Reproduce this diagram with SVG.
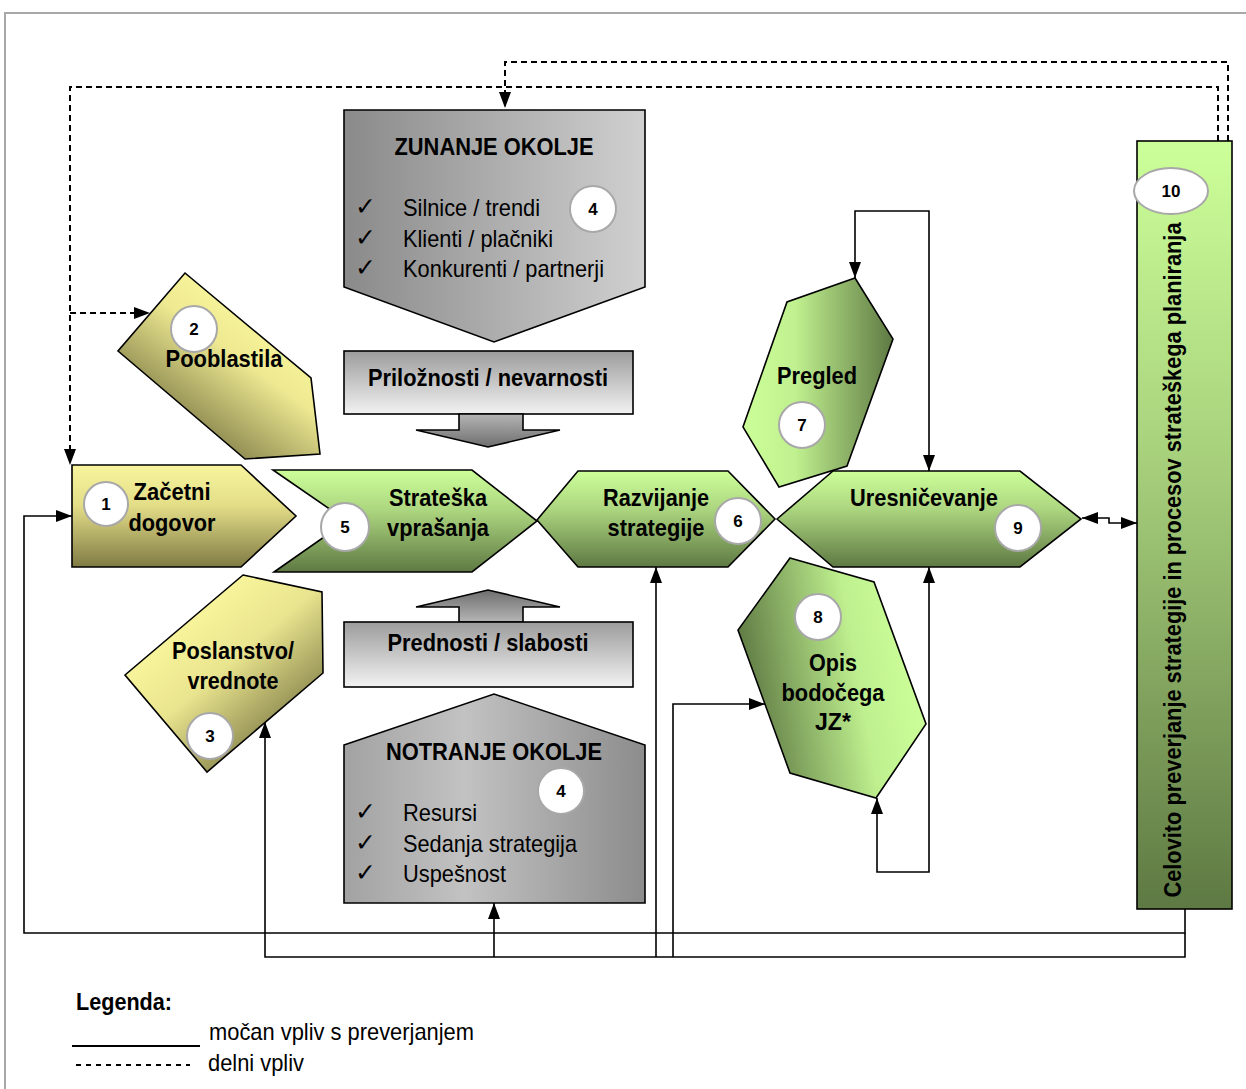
<svg xmlns="http://www.w3.org/2000/svg" width="1246" height="1089" viewBox="0 0 1246 1089">
<defs>
<style>
.t{font-family:"Liberation Sans",Arial,sans-serif;font-weight:bold;font-size:24px;fill:#000;text-anchor:middle}
.n{font-family:"Liberation Sans",Arial,sans-serif;font-size:24px;fill:#000}
.num{font-family:"Liberation Sans",Arial,sans-serif;font-weight:bold;font-size:17px;fill:#000;text-anchor:middle}
.ck{font-family:"DejaVu Sans",sans-serif;font-size:25px;fill:#000}
.sh{stroke:#000;stroke-width:1.6;stroke-linejoin:miter}
.c{fill:#fff;stroke:#a8a8a8;stroke-width:2}
.ln{fill:none;stroke:#000;stroke-width:1.6}
.dl{fill:none;stroke:#000;stroke-width:2;stroke-dasharray:6,4}
</style>
<marker id="ar" viewBox="0 0 16 12" refX="16" refY="6" markerWidth="16" markerHeight="12" markerUnits="userSpaceOnUse" orient="auto-start-reverse">
<path d="M0,0 L16,6 L0,12 z" fill="#000"/>
</marker>
<linearGradient id="gY1" x1="0" y1="0" x2="0" y2="1"><stop offset="0" stop-color="#f8f49d"/><stop offset="0.4" stop-color="#e3dd88"/><stop offset="1" stop-color="#807b44"/></linearGradient>
<linearGradient id="gY2" x1="0.85" y1="0.25" x2="0.3" y2="0.95"><stop offset="0" stop-color="#fbf89e"/><stop offset="0.35" stop-color="#efea92"/><stop offset="1" stop-color="#6f6c3c"/></linearGradient>
<linearGradient id="gY3" x1="0.25" y1="0.2" x2="0.85" y2="0.9"><stop offset="0" stop-color="#fbf89e"/><stop offset="0.4" stop-color="#e9e48e"/><stop offset="1" stop-color="#6f6c3c"/></linearGradient>
<linearGradient id="gG" x1="0" y1="0" x2="0" y2="1"><stop offset="0" stop-color="#ccff99"/><stop offset="0.4" stop-color="#acd57f"/><stop offset="1" stop-color="#5e7943"/></linearGradient>
<linearGradient id="gG7" x1="0" y1="0" x2="1" y2="0"><stop offset="0" stop-color="#ccff99"/><stop offset="0.35" stop-color="#c0f08f"/><stop offset="1" stop-color="#5e7943"/></linearGradient>
<linearGradient id="gG8" x1="0.05" y1="0.6" x2="0.95" y2="0.4"><stop offset="0" stop-color="#5e7943"/><stop offset="0.65" stop-color="#bff08f"/><stop offset="1" stop-color="#ccff99"/></linearGradient>
<linearGradient id="gG10" x1="0" y1="0" x2="0" y2="1"><stop offset="0" stop-color="#ccff99"/><stop offset="0.4" stop-color="#a9d27d"/><stop offset="1" stop-color="#5e7943"/></linearGradient>
<linearGradient id="gZ" x1="0" y1="0" x2="1" y2="0"><stop offset="0" stop-color="#8a8a8a"/><stop offset="1" stop-color="#d0d0d0"/></linearGradient>
<linearGradient id="gN" x1="0" y1="0" x2="1" y2="0"><stop offset="0" stop-color="#a2a2a2"/><stop offset="0.4" stop-color="#c2c2c2"/><stop offset="1" stop-color="#8c8c8c"/></linearGradient>
<linearGradient id="gB" x1="0" y1="0" x2="0" y2="1"><stop offset="0" stop-color="#9c9c9c"/><stop offset="1" stop-color="#f2f2f2"/></linearGradient>
<linearGradient id="gAd" x1="0" y1="0" x2="0" y2="1"><stop offset="0" stop-color="#b5b5b5"/><stop offset="1" stop-color="#6e6e6e"/></linearGradient>
<linearGradient id="gAu" x1="0" y1="0" x2="0" y2="1"><stop offset="0" stop-color="#6e6e6e"/><stop offset="1" stop-color="#b5b5b5"/></linearGradient>
<clipPath id="clipN"><rect x="344" y="694" width="301" height="193"/></clipPath>
</defs>

<rect x="5" y="13" width="1260" height="1100" fill="#fff" stroke="#a8a8a8" stroke-width="2"/>

<g id="connectors">
<path class="dl" d="M1228,141 V62 H505 V108" marker-end="url(#ar)"/>
<path class="dl" d="M1218,141 V87 H70 V465" marker-end="url(#ar)"/>
<path class="dl" d="M70,313 H150" marker-end="url(#ar)"/>
<path class="ln" d="M855,278 V211 H929 V471" marker-start="url(#ar)" marker-end="url(#ar)"/>
<path class="ln" d="M877,798 V872 H929 V567" marker-start="url(#ar)" marker-end="url(#ar)"/>
<path class="ln" d="M1185,909 V933 H24 V516 H72" marker-end="url(#ar)"/>
<path class="ln" d="M1185,933 V957 H265 V722" marker-end="url(#ar)"/>
<path class="ln" d="M494,957 V903" marker-end="url(#ar)"/>
<path class="ln" d="M656,957 V567" marker-end="url(#ar)"/>
<path class="ln" d="M673,957 V704 H765" marker-end="url(#ar)"/>
<path class="ln" d="M1082,518 H1109 V523 H1137" marker-start="url(#ar)" marker-end="url(#ar)"/>
</g>

<g id="node-zunanje">
<path class="sh" d="M344,110 H645 V287 L494,342 L344,287 Z" fill="url(#gZ)"/>
<text class="t" x="494" y="155" textLength="199" lengthAdjust="spacingAndGlyphs">ZUNANJE OKOLJE</text>
<text class="ck" x="355" y="215">✓</text>
<text class="ck" x="355" y="246">✓</text>
<text class="ck" x="355" y="276">✓</text>
<text class="n" x="403" y="216" textLength="137" lengthAdjust="spacingAndGlyphs">Silnice / trendi</text>
<text class="n" x="403" y="247" textLength="150" lengthAdjust="spacingAndGlyphs">Klienti / plačniki</text>
<text class="n" x="403" y="277" textLength="201" lengthAdjust="spacingAndGlyphs">Konkurenti / partnerji</text>
<circle class="c" cx="593" cy="209" r="23"/>
<text class="num" x="593" y="215">4</text>
</g>

<g id="node-priloznosti">
<rect class="sh" x="344" y="351" width="289" height="63" fill="url(#gB)"/>
<text class="t" x="488" y="386" textLength="240" lengthAdjust="spacingAndGlyphs">Priložnosti / nevarnosti</text>
<path class="sh" d="M459,414 H523 V430 H560 L488,447 L416,430 H459 Z" fill="url(#gAd)" stroke-width="1"/>
</g>

<g id="node-prednosti">
<path class="sh" d="M459,622 V607 H416 L488,590 L560,607 H523 V622 Z" fill="url(#gAu)" stroke-width="1"/>
<rect class="sh" x="344" y="622" width="289" height="65" fill="url(#gB)"/>
<text class="t" x="488" y="651" textLength="201" lengthAdjust="spacingAndGlyphs">Prednosti / slabosti</text>
</g>

<g id="node-notranje">
<path class="sh" d="M344,745 L494,694 L645,745 V903 H344 Z" fill="url(#gN)"/>
<text class="t" x="494" y="760" textLength="216" lengthAdjust="spacingAndGlyphs">NOTRANJE OKOLJE</text>
<circle class="c" cx="561" cy="791" r="23"/>
<text class="num" x="561" y="797">4</text>
<g clip-path="url(#clipN)">
<text class="ck" x="355" y="820">✓</text>
<text class="ck" x="355" y="851">✓</text>
<text class="ck" x="355" y="881">✓</text>
<text class="n" x="403" y="821" textLength="74" lengthAdjust="spacingAndGlyphs">Resursi</text>
<text class="n" x="403" y="852" textLength="174" lengthAdjust="spacingAndGlyphs">Sedanja strategija</text>
<text class="n" x="403" y="882" textLength="103" lengthAdjust="spacingAndGlyphs">Uspešnost</text>
</g>
</g>

<g id="node-1">
<path class="sh" d="M72,465 H241 L296,516 L241,567 H72 Z" fill="url(#gY1)"/>
<circle class="c" cx="106" cy="504" r="22"/>
<text class="num" x="106" y="510">1</text>
<text class="t" x="172" y="500" textLength="77" lengthAdjust="spacingAndGlyphs">Začetni</text>
<text class="t" x="172" y="531" textLength="87" lengthAdjust="spacingAndGlyphs">dogovor</text>
</g>

<g id="node-2">
<path class="sh" d="M185,273 L311,378 L320,454 L245,459 L118,351 Z" fill="url(#gY2)"/>
<circle class="c" cx="194" cy="329" r="23"/>
<text class="num" x="194" y="335">2</text>
<text class="t" x="224" y="367" textLength="117" lengthAdjust="spacingAndGlyphs">Pooblastila</text>
</g>

<g id="node-3">
<path class="sh" d="M243,575 L322,592 L323,673 L207,772 L125,675 Z" fill="url(#gY3)"/>
<text class="t" x="233" y="659" textLength="122" lengthAdjust="spacingAndGlyphs">Poslanstvo/</text>
<text class="t" x="233" y="689" textLength="91" lengthAdjust="spacingAndGlyphs">vrednote</text>
<circle class="c" cx="210" cy="736" r="23"/>
<text class="num" x="210" y="742">3</text>
</g>

<g id="node-5">
<path class="sh" d="M273,470 H472 L537,521 L472,572 H274 L347,521 Z" fill="url(#gG)"/>
<circle class="c" cx="345" cy="527" r="24"/>
<text class="num" x="345" y="533">5</text>
<text class="t" x="438" y="506" textLength="98" lengthAdjust="spacingAndGlyphs">Strateška</text>
<text class="t" x="438" y="536" textLength="102" lengthAdjust="spacingAndGlyphs">vprašanja</text>
</g>

<g id="node-6">
<path class="sh" d="M537,520 L578,471 H728 L775,519 L728,567 H578 Z" fill="url(#gG)"/>
<text class="t" x="656" y="506" textLength="106" lengthAdjust="spacingAndGlyphs">Razvijanje</text>
<text class="t" x="656" y="536" textLength="97" lengthAdjust="spacingAndGlyphs">strategije</text>
<circle class="c" cx="738" cy="521" r="23"/>
<text class="num" x="738" y="527">6</text>
</g>

<g id="node-7">
<path class="sh" d="M855,278 L893,339 L847,466 L779,487 L743,427 L787,302 Z" fill="url(#gG7)"/>
<text class="t" x="817" y="384" textLength="80" lengthAdjust="spacingAndGlyphs">Pregled</text>
<circle class="c" cx="802" cy="425" r="23"/>
<text class="num" x="802" y="431">7</text>
</g>

<g id="node-9">
<path class="sh" d="M777,519 L833,471 H1020 L1081,519 L1020,567 H833 Z" fill="url(#gG)"/>
<text class="t" x="924" y="506" textLength="148" lengthAdjust="spacingAndGlyphs">Uresničevanje</text>
<circle class="c" cx="1018" cy="528" r="23"/>
<text class="num" x="1018" y="534">9</text>
</g>

<g id="node-8">
<path class="sh" d="M790,558 L874,582 L926,724 L876,798 L790,773 L738,630 Z" fill="url(#gG8)"/>
<circle class="c" cx="818" cy="617" r="23"/>
<text class="num" x="818" y="623">8</text>
<text class="t" x="833" y="671" textLength="48" lengthAdjust="spacingAndGlyphs">Opis</text>
<text class="t" x="833" y="701" textLength="103" lengthAdjust="spacingAndGlyphs">bodočega</text>
<text class="t" x="833" y="730" textLength="36" lengthAdjust="spacingAndGlyphs">JZ*</text>
</g>

<g id="node-10">
<rect class="sh" x="1137" y="141" width="95" height="768" fill="url(#gG10)"/>
<ellipse class="c" cx="1171" cy="191" rx="37" ry="23"/>
<text class="num" x="1171" y="197">10</text>
<text class="t" transform="translate(1181,560) rotate(-90)" x="0" y="0" textLength="675" lengthAdjust="spacingAndGlyphs">Celovito preverjanje strategije in procesov strateškega planiranja</text>
</g>

<g id="legend">
<text class="t" x="76" y="1010" style="text-anchor:start" textLength="96" lengthAdjust="spacingAndGlyphs">Legenda:</text>
<line x1="72" y1="1046" x2="200" y2="1046" stroke="#000" stroke-width="2"/>
<text class="n" x="209" y="1040" textLength="265" lengthAdjust="spacingAndGlyphs">močan vpliv s preverjanjem</text>
<line x1="76" y1="1065" x2="190" y2="1065" stroke="#000" stroke-width="2" stroke-dasharray="5,5"/>
<text class="n" x="208" y="1071" textLength="96" lengthAdjust="spacingAndGlyphs">delni vpliv</text>
</g>
</svg>
